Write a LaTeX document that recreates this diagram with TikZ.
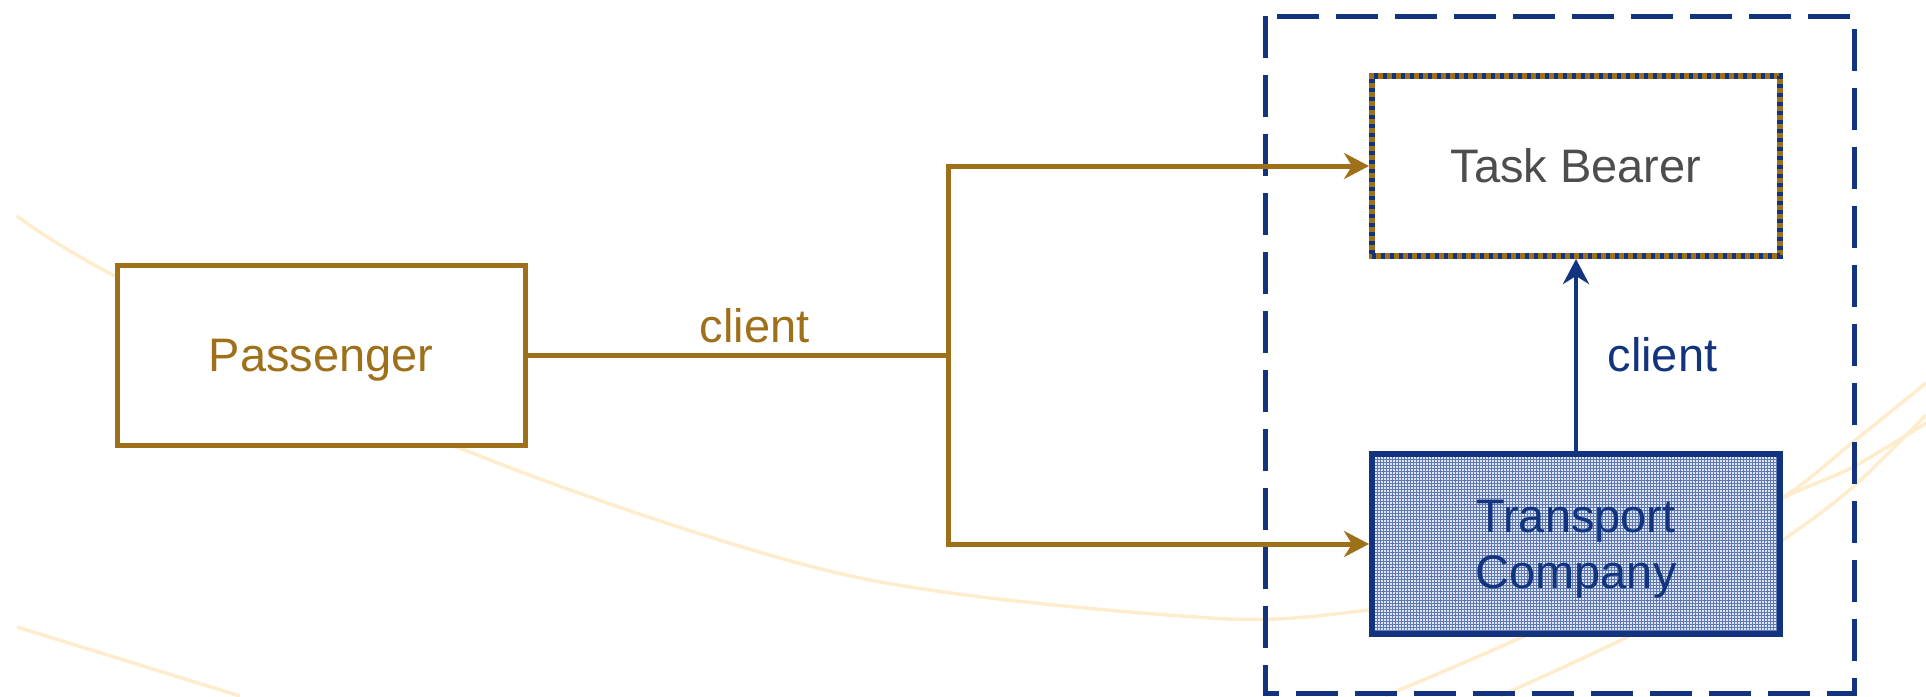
\documentclass[tikz,border=0pt]{standalone}
\usepackage{fontspec}
\setmainfont{Liberation Sans}
\usetikzlibrary{arrows.meta}
\usetikzlibrary{patterns}
\definecolor{passbrown}{RGB}{158,112,26}
\definecolor{navyblue}{RGB}{18,52,127}
\definecolor{beargray}{RGB}{77,77,77}
\definecolor{swoosh}{RGB}{254,236,205}
\definecolor{compback}{RGB}{208,217,235}
\definecolor{compgrid}{RGB}{95,122,178}
\tikzset{
	passstyle/.style={rectangle,draw=passbrown,line width=5pt,fill=white,text=passbrown,text depth=0pt,minimum width=408pt,minimum height=180pt},
	bearstyle/.style={rectangle,draw=passbrown,line width=6pt,fill=white,text=beargray,minimum width=408pt,minimum height=180pt,postaction={draw=navyblue,line width=6pt,dash pattern=on 4pt off 5pt}},
	compstyle/.style={rectangle,draw=navyblue,line width=6pt,preaction={fill=compback,fill opacity=0.7},pattern=grid,pattern color=compgrid,text=navyblue,text depth=0pt,align=center,minimum width=408pt,minimum height=180pt},
	groupstyle/.style={draw=navyblue,line width=5pt,dash pattern=on 42pt off 17pt},
	swooshstyle/.style={draw=swoosh,line width=3.5pt},
	brownline/.style={draw=passbrown,line width=5pt},
	brownarrow/.style={brownline,-{Stealth[length=25pt,width=26pt,inset=8pt]}},
	bluearrow/.style={draw=navyblue,line width=4.5pt,-{Stealth[length=25pt,width=26pt,inset=8pt]}}
}
\begin{document}
\begin{tikzpicture}[x=1pt,y=-1pt,font=\fontsize{47}{56}\selectfont]
	\useasboundingbox (0,0) rectangle (1926,696);
	% background swooshes
	\draw[swooshstyle] plot[smooth] coordinates {(17,216) (113,275) (460,448) (846,575) (1210,618) (1369,610) (1500,588) (1700,530) (1783,497) (1853,442) (1926,383)};
	\draw[swooshstyle] plot[smooth] coordinates {(1385,696) (1533,632) (1700,547) (1783,498) (1853,467) (1926,423)};
	\draw[swooshstyle] plot[smooth] coordinates {(1500,696) (1627,637) (1700,593) (1783,540) (1853,487) (1926,415)};
	\draw[swooshstyle] (17,627) -- (240,696);
	% boxes
	\node[passstyle] (pass) at (321,355) {Passenger};
	\node[bearstyle] (bear) at (1576,166) {Task Bearer};
	\node[compstyle] (comp) at (1576,544) {Transport\\Company};
	\draw[groupstyle] (1265,16) rectangle (1854,693);
	% connectors
	\coordinate (split) at (948,355);
	\draw[brownline] (pass) -- (split) node[pos=0.54,above,text=passbrown,inner sep=10pt] {client};
	\draw[brownarrow] (split) |- (bear);
	\draw[brownarrow] (split) |- (comp);
	\draw[bluearrow] (comp) -- (bear) node[midway,anchor=west,xshift=26pt,text=navyblue] {client};
\end{tikzpicture}
\end{document}
